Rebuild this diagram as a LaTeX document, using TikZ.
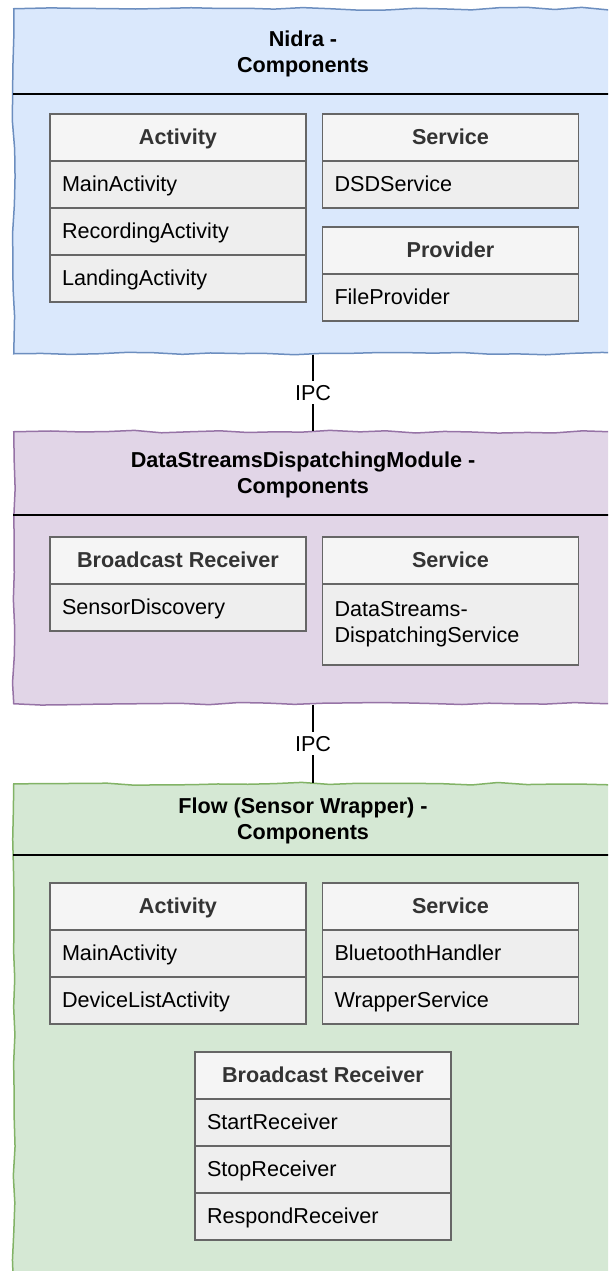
\documentclass[tikz,border=0pt]{standalone}
\usepackage{fontspec}
\setmainfont{Liberation Sans}
\usetikzlibrary{positioning}
\usetikzlibrary{decorations.pathmorphing}

\definecolor{blueFill}{HTML}{DAE8FC}
\definecolor{blueLine}{HTML}{6C8EBF}
\definecolor{purpleFill}{HTML}{E1D5E7}
\definecolor{purpleLine}{HTML}{9673A6}
\definecolor{greenFill}{HTML}{D5E8D4}
\definecolor{greenLine}{HTML}{82B366}
\definecolor{headFill}{HTML}{F5F5F5}
\definecolor{rowFill}{HTML}{EEEEEE}
\definecolor{boxLine}{HTML}{666666}
\definecolor{headText}{HTML}{333333}

\newcommand{\dsize}{\fontsize{21.6}{26}\selectfont}

\tikzset{
  module/.style={line width=1.5pt, anchor=north west, minimum width=625, inner sep=0,
    decorate, decoration={random steps, segment length=28pt, amplitude=1.4pt}},
  title/.style={font=\dsize\bfseries, align=center},
  sepline/.style={line width=1.5pt},
  head/.style={draw=boxLine, fill=headFill, line width=1.5pt, minimum width=256,
    minimum height=47, inner sep=0, outer sep=0, font=\dsize\bfseries, text=headText,
    text height=15.5pt, text depth=1pt},
  row/.style={draw=boxLine, fill=rowFill, line width=1.5pt, text width=232, inner xsep=12,
    inner ysep=0, minimum height=47, outer sep=0, align=left, font=\dsize},
  row1/.style={row, text height=15.5pt, text depth=1pt},
  ipc/.style={fill=white, font=\dsize, inner xsep=2pt, inner ysep=4pt}
}

\begin{document}
\begin{tikzpicture}[x=1pt, y=-1pt]
\pgfmathsetseed{7}
\clip (0,0) rectangle (608,1271);

\node[module, draw=blueLine, fill=blueFill, minimum height=345] (nidra) at (13,8) {};
\node[module, draw=purpleLine, fill=purpleFill, minimum height=272] (dsdm) at (13,431) {};
\node[module, draw=greenLine, fill=greenFill, minimum height=510] (flow) at (13,783) {};
\coordinate (ipcx) at (313,0);

\draw[sepline] (13,94) -- (640,94);
\draw[sepline] (13,515) -- (640,515);
\draw[sepline] (13,855) -- (640,855);

\node[title] (nidraT) at (303,54) {Nidra -\\Components};
\node[title] (dsdmT) at (303,475) {DataStreamsDispatchingModule -\\Components};
\node[title] (flowT) at (303,821) {Flow (Sensor Wrapper) -\\Components};

\node[head, anchor=north west] (nAct) at (50,114) {Activity};
\node[row1, below=0pt of nAct] (nAct1) {MainActivity};
\node[row1, below=0pt of nAct1] (nAct2) {RecordingActivity};
\node[row1, below=0pt of nAct2] (nAct3) {LandingActivity};
\node[head, anchor=north west] (nSrv) at (322.5,114) {Service};
\node[row1, below=0pt of nSrv] (nSrv1) {DSDService};
\node[head, anchor=north west] (nPrv) at (322.5,227) {Provider};
\node[row1, below=0pt of nPrv] (nPrv1) {FileProvider};

\node[head, anchor=north west] (dRcv) at (50,537) {Broadcast Receiver};
\node[row1, below=0pt of dRcv] (dRcv1) {SensorDiscovery};
\node[head, anchor=north west] (dSrv) at (322.5,537) {Service};
\node[row, below=0pt of dSrv, minimum height=81] (dSrv1) {DataStreams-\\DispatchingService};

\node[head, anchor=north west] (fAct) at (50,883) {Activity};
\node[row1, below=0pt of fAct] (fAct1) {MainActivity};
\node[row1, below=0pt of fAct1] (fAct2) {DeviceListActivity};
\node[head, anchor=north west] (fSrv) at (322.5,883) {Service};
\node[row1, below=0pt of fSrv] (fSrv1) {BluetoothHandler};
\node[row1, below=0pt of fSrv1] (fSrv2) {WrapperService};
\node[head, anchor=north west] (fRcv) at (195,1052) {Broadcast Receiver};
\node[row1, below=0pt of fRcv] (fRcv1) {StartReceiver};
\node[row1, below=0pt of fRcv1] (fRcv2) {StopReceiver};
\node[row1, below=0pt of fRcv2] (fRcv3) {RespondReceiver};

\draw[line width=1.3pt] (nidra.south -| ipcx) -- node[ipc]{IPC} (dsdm.north -| ipcx);
\draw[line width=1.3pt] (dsdm.south -| ipcx) -- node[ipc]{IPC} (flow.north -| ipcx);
\end{tikzpicture}
\end{document}
